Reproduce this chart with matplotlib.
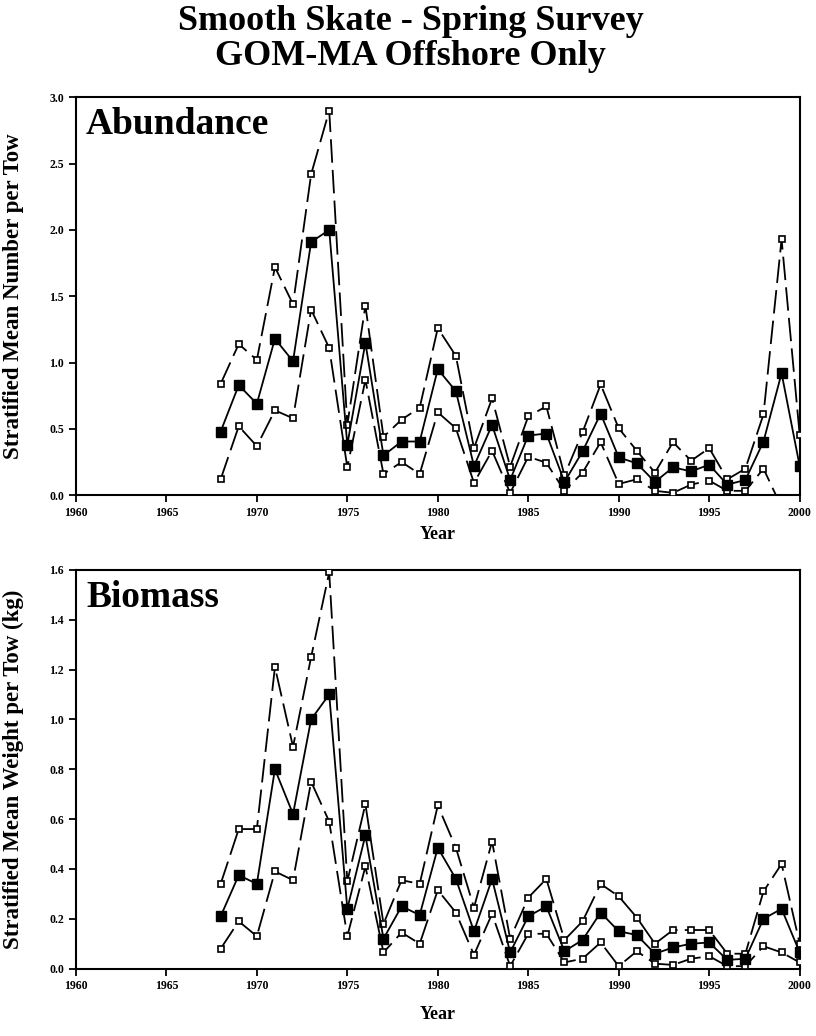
import matplotlib
matplotlib.use('Agg')
import matplotlib.pyplot as plt

plt.rcParams['font.family'] = 'Liberation Serif'
plt.rcParams['font.weight'] = 'bold'

years = list(range(1968, 2001))

# Abundance (stratified mean number per tow) with upper / lower bounds
num_mean = [0.48, 0.83, 0.69, 1.18, 1.01, 1.91, 2.00, 0.38, 1.15, 0.30, 0.405,
            0.405, 0.95, 0.785, 0.22, 0.53, 0.115, 0.45, 0.465, 0.10, 0.33,
            0.615, 0.285, 0.24, 0.10, 0.21, 0.18, 0.23, 0.08, 0.115, 0.405,
            0.92, 0.22]
num_upper = [0.84, 1.14, 1.02, 1.72, 1.44, 2.42, 2.90, 0.53, 1.43, 0.44, 0.57,
             0.66, 1.26, 1.05, 0.355, 0.73, 0.215, 0.595, 0.67, 0.15, 0.475,
             0.835, 0.505, 0.335, 0.17, 0.40, 0.26, 0.355, 0.12, 0.20, 0.61,
             1.93, 0.455]
num_lower = [0.12, 0.52, 0.37, 0.64, 0.58, 1.40, 1.11, 0.21, 0.87, 0.16, 0.25,
             0.16, 0.625, 0.505, 0.093, 0.335, 0.017, 0.29, 0.245, 0.033, 0.17,
             0.40, 0.085, 0.12, 0.033, 0.018, 0.08, 0.11, 0.033, 0.033, 0.20,
             -0.09, -0.03]

# Biomass (stratified mean weight per tow, kg) with upper / lower bounds
wt_mean = [0.21, 0.375, 0.34, 0.80, 0.62, 1.00, 1.10, 0.24, 0.535, 0.12, 0.25,
           0.215, 0.485, 0.36, 0.15, 0.36, 0.065, 0.21, 0.25, 0.07, 0.115,
           0.225, 0.15, 0.135, 0.06, 0.085, 0.10, 0.105, 0.035, 0.04, 0.20,
           0.24, 0.065]
wt_upper = [0.34, 0.56, 0.56, 1.21, 0.89, 1.25, 1.59, 0.35, 0.66, 0.18, 0.355,
            0.34, 0.655, 0.485, 0.245, 0.51, 0.12, 0.285, 0.36, 0.115, 0.19,
            0.34, 0.29, 0.205, 0.10, 0.155, 0.155, 0.155, 0.06, 0.06, 0.31,
            0.42, 0.10]
wt_lower = [0.08, 0.19, 0.13, 0.39, 0.355, 0.75, 0.59, 0.13, 0.41, 0.065, 0.145,
            0.10, 0.315, 0.225, 0.055, 0.22, 0.01, 0.14, 0.14, 0.025, 0.04,
            0.105, 0.01, 0.07, 0.02, 0.015, 0.04, 0.05, 0.01, 0.01, 0.09,
            0.065, 0.025]

fig = plt.figure(figsize=(8.16, 10.36), dpi=100)
fig.patch.set_facecolor('white')

fig.text(0.503, 0.979, 'Smooth Skate - Spring Survey', ha='center', va='center',
         fontsize=26, fontweight='bold')
fig.text(0.503, 0.945, 'GOM-MA Offshore Only', ha='center', va='center',
         fontsize=26, fontweight='bold')


def draw_panel(ax, mean, upper, lower, ymax, ystep, ylabel, tag, xpad):
    dash = dict(color='black', lw=1.3, dashes=(13, 4), marker='s', ms=5,
                mfc='white', mec='black', mew=1.2)
    ax.plot(years, upper, **dash, zorder=3)
    ax.plot(years, lower, **dash, zorder=3)
    ax.plot(years, mean, color='black', lw=1.3, marker='s', ms=7,
            mfc='black', mec='black', zorder=4)
    ax.set_xlim(1960, 2000)
    ax.set_ylim(0, ymax)
    ax.set_xticks(range(1960, 2001, 5))
    n = int(round(ymax / ystep))
    ax.set_yticks([i * ystep for i in range(n + 1)])
    ax.set_yticklabels([f'{i * ystep:.1f}' for i in range(n + 1)])
    ax.tick_params(direction='out', length=5, width=1.3, labelsize=8.5)
    for lbl in ax.get_xticklabels() + ax.get_yticklabels():
        lbl.set_fontweight('bold')
    for sp in ax.spines.values():
        sp.set_linewidth(1.5)
    ax.set_xlabel('Year', fontsize=13, fontweight='bold', labelpad=xpad)
    ax.set_ylabel(ylabel, fontsize=16.5, fontweight='bold')
    ax.yaxis.set_label_coords(-0.071, 0.5)
    ax.text(0.014, 0.975, tag, transform=ax.transAxes, ha='left', va='top',
            fontsize=27, fontweight='bold')


ax1 = fig.add_axes([0.093, 0.522, 0.887, 0.384])
draw_panel(ax1, num_mean, num_upper, num_lower, 3.0, 0.5,
           'Stratified Mean Number per Tow', 'Abundance', 5)

ax2 = fig.add_axes([0.093, 0.065, 0.887, 0.385])
draw_panel(ax2, wt_mean, wt_upper, wt_lower, 1.6, 0.2,
           'Stratified Mean Weight per Tow (kg)', 'Biomass', 10)

fig.savefig('out.png', dpi=100, facecolor='white')
